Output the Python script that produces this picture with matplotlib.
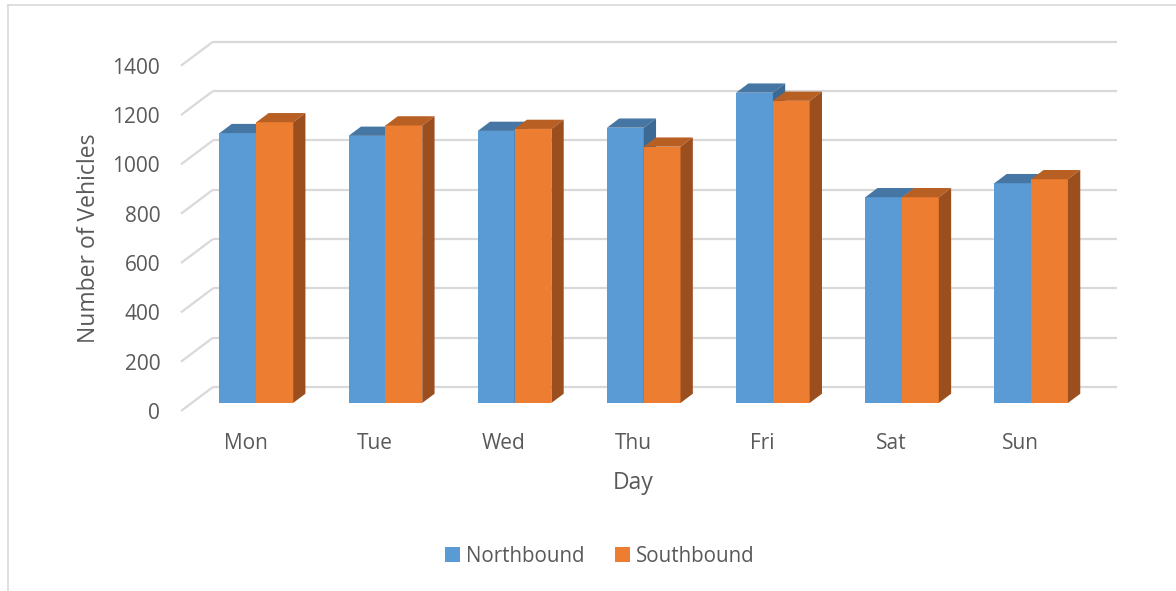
import matplotlib
matplotlib.use("Agg")
import matplotlib.pyplot as plt
from matplotlib.patches import Polygon, Patch
from matplotlib.lines import Line2D

days = ["Mon", "Tue", "Wed", "Thu", "Fri", "Sat", "Sun"]
northbound = [1094, 1083, 1103, 1116, 1258, 834, 891]
southbound = [1138, 1125, 1111, 1039, 1225, 834, 907]
y_ticks = [0, 200, 400, 600, 800, 1000, 1200, 1400]
series_names = ["Northbound", "Southbound"]

W, H = 1176, 591
fig = plt.figure(figsize=(W / 100, H / 100), dpi=100)
FONT = "Open Sans"
TXT = "#595959"
GRID = "#d9d9d9"

# front plane of the 3D box, in pixels
px_left, px_right = 181, 1085
px_bottom, px_top = 411, 65.7
ax = fig.add_axes([px_left / W, 1 - px_bottom / H, (px_right - px_left) / W, (px_bottom - px_top) / H])
ax.set_xlim(-0.5, len(days) - 0.5)
ax.set_ylim(0, 1400)
for s in ax.spines.values():
    s.set_visible(False)
ax.set_facecolor("none")

# depth vector (full box depth) in data units
cat_px = (px_right - px_left) / len(days)
val_px = (px_bottom - px_top) / 1400
DX = 32 / cat_px
DY = 24 / val_px
f_front, f_back = 0.335, 0.72

# back wall gridlines + left wall diagonals
for v in y_ticks:
    ax.plot([-0.5 + DX, len(days) - 0.5 + DX], [v + DY, v + DY], color=GRID, lw=1.6, zorder=1, clip_on=False, solid_capstyle="butt")
    ax.plot([-0.5, -0.5 + DX], [v, v + DY], color=GRID, lw=1.6, zorder=1, clip_on=False, solid_capstyle="butt")

bw = 0.285
colors = {
    0: ("#5B9BD5", "#4676A3", "#3D6A94"),
    1: ("#ED7D31", "#B85F24", "#9C4F1E"),
}
dxf, dyf = DX * f_front, DY * f_front
ddx, ddy = DX * (f_back - f_front), DY * (f_back - f_front)

z = 2
for i in range(len(days)):
    for k, vals in enumerate([northbound, southbound]):
        v = vals[i]
        front, top, side = colors[k]
        xl = i + dxf - bw + k * bw
        xr = xl + bw
        ax.bar(xl, v, width=bw, bottom=dyf, align="edge", color=front, zorder=z, clip_on=False, linewidth=0)
        top_poly = Polygon([(xl, v + dyf), (xr, v + dyf), (xr + ddx, v + dyf + ddy), (xl + ddx, v + dyf + ddy)],
                           closed=True, facecolor=top, edgecolor="none", zorder=z, clip_on=False)
        side_poly = Polygon([(xr, dyf), (xr, v + dyf), (xr + ddx, v + dyf + ddy), (xr + ddx, dyf + ddy)],
                            closed=True, facecolor=side, edgecolor="none", zorder=z, clip_on=False)
        ax.add_patch(top_poly)
        ax.add_patch(side_poly)
        z += 1

ax.set_yticks(y_ticks)
ax.set_yticklabels([str(t) for t in y_ticks], fontfamily=FONT, fontsize=15, color=TXT)
ax.set_xticks(range(len(days)))
ax.set_xticklabels(days, fontfamily=FONT, fontsize=15, color=TXT)
ax.tick_params(axis="y", length=0, pad=15)
ax.tick_params(axis="x", length=0, pad=16)

ax.set_xlabel("Day", fontfamily=FONT, fontsize=16.5, color=TXT, labelpad=12)
ax.set_ylabel("Number of Vehicles", fontfamily=FONT, fontsize=16.5, color=TXT, labelpad=8)

handles = [Patch(facecolor=colors[0][0], edgecolor="none"), Patch(facecolor=colors[1][0], edgecolor="none")]
fig.legend(handles, series_names, loc="center", bbox_to_anchor=(600 / W, 1 - 556 / H), ncol=2, frameon=False,
           prop={"family": FONT, "size": 14.8}, labelcolor=TXT, handlelength=0.7, handleheight=0.7,
           handletextpad=0.3, columnspacing=1.5)

# chart border (left and top)
fig.add_artist(Line2D([7.5 / W, 7.5 / W], [0, 1 - 5 / H], transform=fig.transFigure, color=GRID, lw=1.2))
fig.add_artist(Line2D([7.5 / W, 1], [1 - 5 / H, 1 - 5 / H], transform=fig.transFigure, color=GRID, lw=1.2))

fig.savefig("out.png", dpi=100)
